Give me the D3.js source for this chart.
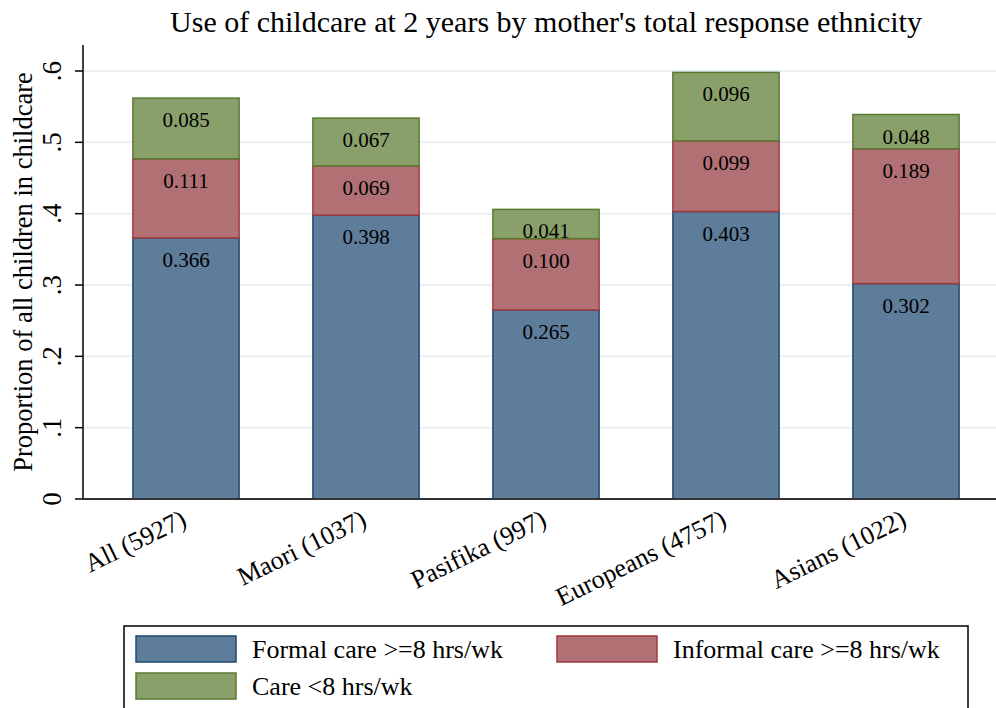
<!DOCTYPE html>
<html>
<head>
<meta charset="utf-8">
<script src="https://cdnjs.cloudflare.com/ajax/libs/d3/7.8.5/d3.min.js"></script>
<style>
body { margin: 0; background: #fff; }
text { font-family: "Liberation Serif", "Times New Roman", serif; fill: #000; }
</style>
</head>
<body>
<script>
// data
var groups = ["All (5927)", "Maori (1037)", "Pasifika (997)", "Europeans (4757)", "Asians (1022)"];
var formal = [0.366, 0.398, 0.265, 0.403, 0.302];
var informal = [0.111, 0.069, 0.100, 0.099, 0.189];
var lowCare = [0.085, 0.067, 0.041, 0.096, 0.048];
var seriesNames = ["Formal care >=8 hrs/wk", "Informal care >=8 hrs/wk", "Care <8 hrs/wk"];
var yTicks = [0, 0.1, 0.2, 0.3, 0.4, 0.5, 0.6];
var yTickLabels = ["0", ".1", ".2", ".3", ".4", ".5", ".6"];

var w = 996, h = 708;
var fills = ["#5e7d9a", "#b07074", "#8aa06b"];
var strokes = ["#1f4a75", "#a3393f", "#587a2e"];

var svg = d3.select("body").append("svg")
	.attr("width", w)
	.attr("height", h);

var x = d3.scaleBand()
	.domain(groups)
	.range([96, 996])
	.paddingInner(0.41)
	.paddingOuter(0.205);

var y = d3.scaleLinear()
	.domain([0, 0.6])
	.range([499, 71]);

// gridlines
svg.selectAll("line.grid")
	.data(yTicks.slice(1))
	.enter()
	.append("line")
	.attr("class", "grid")
	.attr("x1", 84).attr("x2", w)
	.attr("y1", function(d) { return y(d); })
	.attr("y2", function(d) { return y(d); })
	.style("stroke", "#e8eff2")
	.style("stroke-width", 2);

// stacked data
var rows = groups.map(function(g, i) {
	return {group: g, formal: formal[i], informal: informal[i], low: lowCare[i]};
});
var stack = d3.stack().keys(["formal", "informal", "low"]);
var layers = stack(rows);

layers.forEach(function(layer, k) {
	svg.selectAll("rect.s" + k)
		.data(layer)
		.enter()
		.append("rect")
		.attr("class", "s" + k)
		.attr("x", function(d) { return x(d.data.group); })
		.attr("y", function(d) { return y(d[1]); })
		.attr("width", x.bandwidth())
		.attr("height", function(d) { return y(d[0]) - y(d[1]); })
		.style("fill", fills[k])
		.style("stroke", strokes[k])
		.style("stroke-width", 1.5);

	svg.selectAll("text.s" + k)
		.data(layer)
		.enter()
		.append("text")
		.attr("class", "s" + k)
		.attr("x", function(d) { return x(d.data.group) + x.bandwidth() / 2; })
		.attr("y", function(d) { return y(d[1]) + 29; })
		.attr("text-anchor", "middle")
		.attr("font-size", "21px")
		.text(function(d) { return (d[1] - d[0]).toFixed(3); });
});

// y axis
var yAxis = d3.axisLeft(y)
	.tickValues(yTicks)
	.tickFormat(function(d, i) { return yTickLabels[i]; })
	.tickSize(8);
var gy = svg.append("g")
	.attr("transform", "translate(83,0)")
	.call(yAxis);
gy.select(".domain").remove();
gy.append("line")
	.attr("x1", 0).attr("x2", 0)
	.attr("y1", 45).attr("y2", 499)
	.style("stroke", "#000")
	.style("stroke-width", 1.5);
gy.selectAll(".tick").attr("transform", null);
gy.selectAll(".tick line")
	.attr("y1", function(d) { return y(d); })
	.attr("y2", function(d) { return y(d); })
	.style("stroke", "#000")
	.style("stroke-width", 1.5);
gy.selectAll(".tick text")
	.attr("font-size", "27px")
	.attr("font-family", "Liberation Serif, serif")
	.attr("text-anchor", "middle")
	.attr("x", 0)
	.attr("y", 0)
	.attr("dy", "0.35em")
	.attr("transform", function(d) { return "translate(-31," + y(d) + ") rotate(-90)"; });

// x axis
var xAxis = d3.axisBottom(x).tickSize(0).tickPadding(0);
var gx = svg.append("g")
	.attr("transform", "translate(0,499)")
	.call(xAxis);
gx.select(".domain").remove();
gx.append("line")
	.attr("x1", 83).attr("x2", w)
	.attr("y1", 0).attr("y2", 0)
	.style("stroke", "#333")
	.style("stroke-width", 2);
gx.selectAll(".tick text")
	.attr("font-size", "26px")
	.attr("font-family", "Liberation Serif, serif")
	.attr("text-anchor", "end")
	.attr("y", 0)
	.attr("dy", 0)
	.attr("transform", "translate(2,26) rotate(-26)");

// title
svg.append("text")
	.attr("x", (96 + 996) / 2)
	.attr("y", 32)
	.attr("text-anchor", "middle")
	.attr("font-size", "30px")
	.text("Use of childcare at 2 years by mother's total response ethnicity");

// y axis title
svg.append("text")
	.attr("transform", "translate(32,272) rotate(-90)")
	.attr("text-anchor", "middle")
	.attr("font-size", "26.5px")
	.text("Proportion of all children in childcare");

// legend
var legend = svg.append("g");
legend.append("rect")
	.attr("x", 124).attr("y", 626)
	.attr("width", 844).attr("height", 100)
	.style("fill", "#fff")
	.style("stroke", "#000")
	.style("stroke-width", 1.5);
var legendPos = [[136, 636], [557, 636], [136, 673]];
seriesNames.forEach(function(name, k) {
	legend.append("rect")
		.attr("x", legendPos[k][0]).attr("y", legendPos[k][1])
		.attr("width", 100).attr("height", 26)
		.style("fill", fills[k])
		.style("stroke", strokes[k])
		.style("stroke-width", 1.5);
	legend.append("text")
		.attr("x", legendPos[k][0] + 116)
		.attr("y", legendPos[k][1] + 22)
		.attr("font-size", "26px")
		.text(name);
});
</script>
</body>
</html>
